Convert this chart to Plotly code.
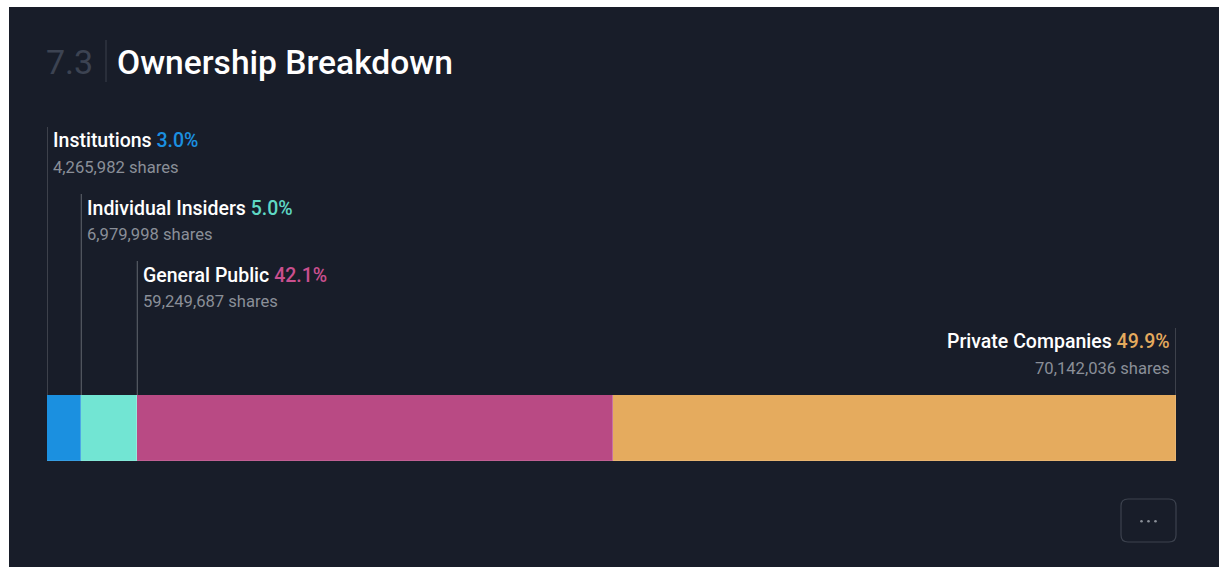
import plotly.graph_objects as go

# ---- data ----
categories = ["Institutions", "Individual Insiders", "General Public", "Private Companies"]
shares = [4265982, 6979998, 59249687, 70142036]
bar_colors = ["#1b90e0", "#72e5d3", "#b94a84", "#e5ab5e"]
pct_colors = ["#1b90e0", "#5fd8c4", "#c94f8e", "#e5ab5e"]
section_number = "7.3"
title_text = "Ownership Breakdown"

# ---- layout helpers ----
W, H = 1219, 567
BG = "#181d29"
total = sum(shares)


def py(p):
    return 1 - p / H


def px(p):
    return p / W


fig = go.Figure()
for cat, v, col in zip(categories, shares, bar_colors):
    fig.add_trace(go.Bar(
        x=[v], y=[0], orientation="h", width=1,
        marker=dict(color=col, line=dict(width=1, color="rgba(255,255,255,0.12)")),
        name=cat, hoverinfo="skip", showlegend=False,
    ))

shapes = []
annotations = []

# dark panel
shapes.append(dict(type="rect", xref="paper", yref="paper", x0=px(9), x1=1, y0=0, y1=py(7),
                   fillcolor=BG, line=dict(width=0), layer="below"))

# title
annotations.append(dict(text=section_number, xref="paper", yref="paper", x=px(44), y=py(62),
                        xanchor="left", yanchor="middle", showarrow=False,
                        font=dict(family="Roboto", size=34, color="#3c4352")))
shapes.append(dict(type="line", xref="paper", yref="paper", x0=px(106), x1=px(106), y0=py(40), y1=py(82),
                   line=dict(color="#3a404c", width=1)))
annotations.append(dict(text=title_text, xref="paper", yref="paper", x=px(115), y=py(62),
                        xanchor="left", yanchor="middle", showarrow=False,
                        font=dict(family="Roboto", size=33.6, color="#ffffff", weight=500)))

# labels
name_y = [141, 208, 275, 341]
share_y = [167, 234, 301, 368]
line_top = [127, 194, 261, 328]
bar_top = 395

start = 0
for i, (cat, v) in enumerate(zip(categories, shares)):
    pct = v / total * 100
    last = i == len(categories) - 1
    xpos = start + v if last else start
    anchor = "right" if last else "left"
    shift = -4 if last else 4
    shapes.append(dict(type="line", xref="x", yref="paper", x0=xpos, x1=xpos,
                       y0=py(bar_top), y1=py(line_top[i]),
                       line=dict(color="#62676f", width=1)))
    annotations.append(dict(
        text=f"{cat} <span style='color:{pct_colors[i]}'>{pct:.1f}%</span>",
        xref="x", yref="paper", x=xpos, y=py(name_y[i]), xanchor=anchor, yanchor="middle",
        xshift=shift, showarrow=False,
        font=dict(family="Roboto", size=19.5, color="#ffffff", weight=500)))
    annotations.append(dict(
        text=f"{v:,} shares",
        xref="x", yref="paper", x=xpos, y=py(share_y[i]), xanchor=anchor, yanchor="middle",
        xshift=shift, showarrow=False,
        font=dict(family="Roboto", size=16.6, color="#8a8f98")))
    start += v

# "..." button
x0b, x1b, y0b, y1b, r = 1121, 1176, 499, 542, 7
pts = (f"M {px(x0b + r)},{py(y0b)} L {px(x1b - r)},{py(y0b)} "
       f"Q {px(x1b)},{py(y0b)} {px(x1b)},{py(y0b + r)} L {px(x1b)},{py(y1b - r)} "
       f"Q {px(x1b)},{py(y1b)} {px(x1b - r)},{py(y1b)} L {px(x0b + r)},{py(y1b)} "
       f"Q {px(x0b)},{py(y1b)} {px(x0b)},{py(y1b - r)} L {px(x0b)},{py(y0b + r)} "
       f"Q {px(x0b)},{py(y0b)} {px(x0b + r)},{py(y0b)} Z")
shapes.append(dict(type="path", xref="paper", yref="paper", path=pts,
                   line=dict(color="#3c424e", width=1.2)))
for dx in (1141.5, 1148.5, 1155.5):
    shapes.append(dict(type="circle", xref="paper", yref="paper",
                       x0=px(dx - 1.3), x1=px(dx + 1.3), y0=py(521.3 - 1.3), y1=py(521.3 + 1.3),
                       fillcolor="#8a8f98", line=dict(width=0)))

fig.update_layout(
    width=W, height=H, margin=dict(l=0, r=0, t=0, b=0),
    paper_bgcolor="#ffffff", plot_bgcolor="rgba(0,0,0,0)",
    barmode="stack", bargap=0,
    xaxis=dict(domain=[px(47), px(1176)], range=[0, total], visible=False, fixedrange=True),
    yaxis=dict(domain=[py(461), py(395)], range=[-0.5, 0.5], visible=False, fixedrange=True),
    shapes=shapes, annotations=annotations, showlegend=False,
)

fig.write_html("out.html", config={"displayModeBar": False})
